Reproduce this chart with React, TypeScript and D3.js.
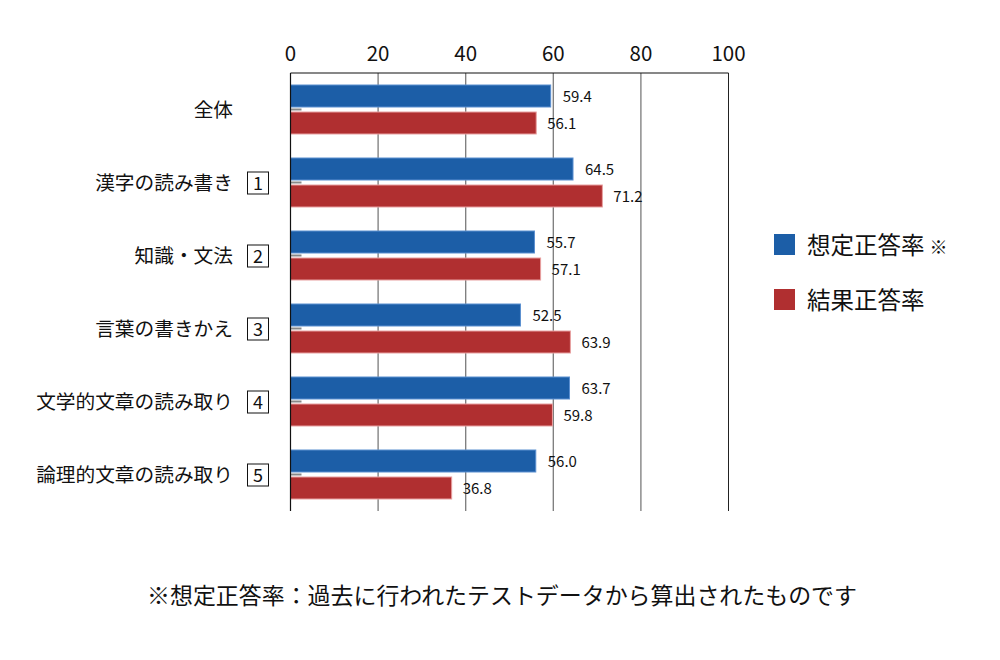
import React from "react";
import * as d3 from "d3";

const categories = ["全体", "漢字の読み書き", "知識・文法", "言葉の書きかえ", "文学的文章の読み取り", "論理的文章の読み取り"];
const categoryNumbers = ["", "1", "2", "3", "4", "5"];
const expectedRate = [59.4, 64.5, 55.7, 52.5, 63.7, 56.0];
const resultRate = [56.1, 71.2, 57.1, 63.9, 59.8, 36.8];
const xTicks = [0, 20, 40, 60, 80, 100];
const seriesNames = ["想定正答率", "結果正答率"];
const footnote = "※想定正答率：過去に行われたテストデータから算出されたものです";

const BLUE = "#1c5ea7";
const RED = "#b02f30";
const FONT = "'Noto Sans CJK JP', 'Noto Sans', sans-serif";

export default function App() {
  const left = 290.5, right = 728.5, top = 73, bottom = 511;
  const x = d3.scaleLinear().domain([0, 100]).range([left, right]);
  const y = d3.scaleBand<string>().domain(categories).range([top, bottom]);
  const bw = y.bandwidth();
  const barH = 22;
  const off1 = 12;
  const off2 = off1 + barH + 5;

  return (
    <svg width={1000} height={660} style={{ position: "absolute", left: 0, top: 0, background: "#fff" }} fontFamily={FONT}>
      {/* gridlines */}
      {xTicks.slice(1).map((t) => (
        <line key={t} x1={x(t)} x2={x(t)} y1={top} y2={bottom}
          stroke={t === 100 ? "#222" : "#7a7a7a"} strokeWidth={t === 100 ? 1 : 1.3} />
      ))}
      {/* top line */}
      <line x1={left} x2={right} y1={top} y2={top} stroke="#111" strokeWidth={1.2} />
      {/* tick labels */}
      {xTicks.map((t) => (
        <text key={t} x={x(t)} y={61} textAnchor="middle" fontSize={20.5} fill="#111">{t}</text>
      ))}
      {/* bars */}
      {categories.map((c, i) => {
        const y0 = y(c)!;
        return (
          <g key={c}>
            <rect x={x(0)} y={y0 + off1} width={x(expectedRate[i]) - x(0)} height={barH}
              fill={BLUE} stroke="#5b8fd0" strokeWidth={1} />
            <rect x={x(0)} y={y0 + off2} width={x(resultRate[i]) - x(0)} height={barH}
              fill={RED} stroke="#e8a0a0" strokeWidth={1} />
            <line x1={x(0)} x2={x(0) + 11} y1={y0 + off1 + barH + 2.5} y2={y0 + off1 + barH + 2.5}
              stroke="#888" strokeWidth={2} />
            <text x={x(expectedRate[i]) + 12} y={y0 + off1 + barH / 2 + 6} fontSize={15} fill="#111">
              {expectedRate[i].toFixed(1)}
            </text>
            <text x={x(resultRate[i]) + 11} y={y0 + off2 + barH / 2 + 6} fontSize={15} fill="#111">
              {resultRate[i].toFixed(1)}
            </text>
            <text x={233} y={y0 + bw / 2 + 7} textAnchor="end" fontSize={19.7} fill="#111">{c}</text>
            {categoryNumbers[i] && (
              <g>
                <rect x={247.5} y={y0 + bw / 2 - 10.5} width={21} height={22} fill="none" stroke="#111" strokeWidth={1} />
                <text x={258} y={y0 + bw / 2 + 7} textAnchor="middle" fontSize={18} fill="#111">{categoryNumbers[i]}</text>
              </g>
            )}
          </g>
        );
      })}
      {/* left axis */}
      <line x1={left} x2={left} y1={top} y2={bottom} stroke="#111" strokeWidth={1.2} />
      {/* legend */}
      <rect x={774} y={234} width={21} height={21} fill={BLUE} />
      <text x={807} y={254} fontSize={23.5} fill="#111">
        {seriesNames[0]}<tspan fontSize={18} dx={5}>※</tspan>
      </text>
      <rect x={774} y={289} width={21} height={21} fill={RED} />
      <text x={807} y={309} fontSize={23.5} fill="#111">{seriesNames[1]}</text>
      {/* footnote */}
      <text x={147} y={604} fontSize={22.5} fill="#111" textLength={710} lengthAdjust="spacingAndGlyphs">{footnote}</text>
    </svg>
  );
}
